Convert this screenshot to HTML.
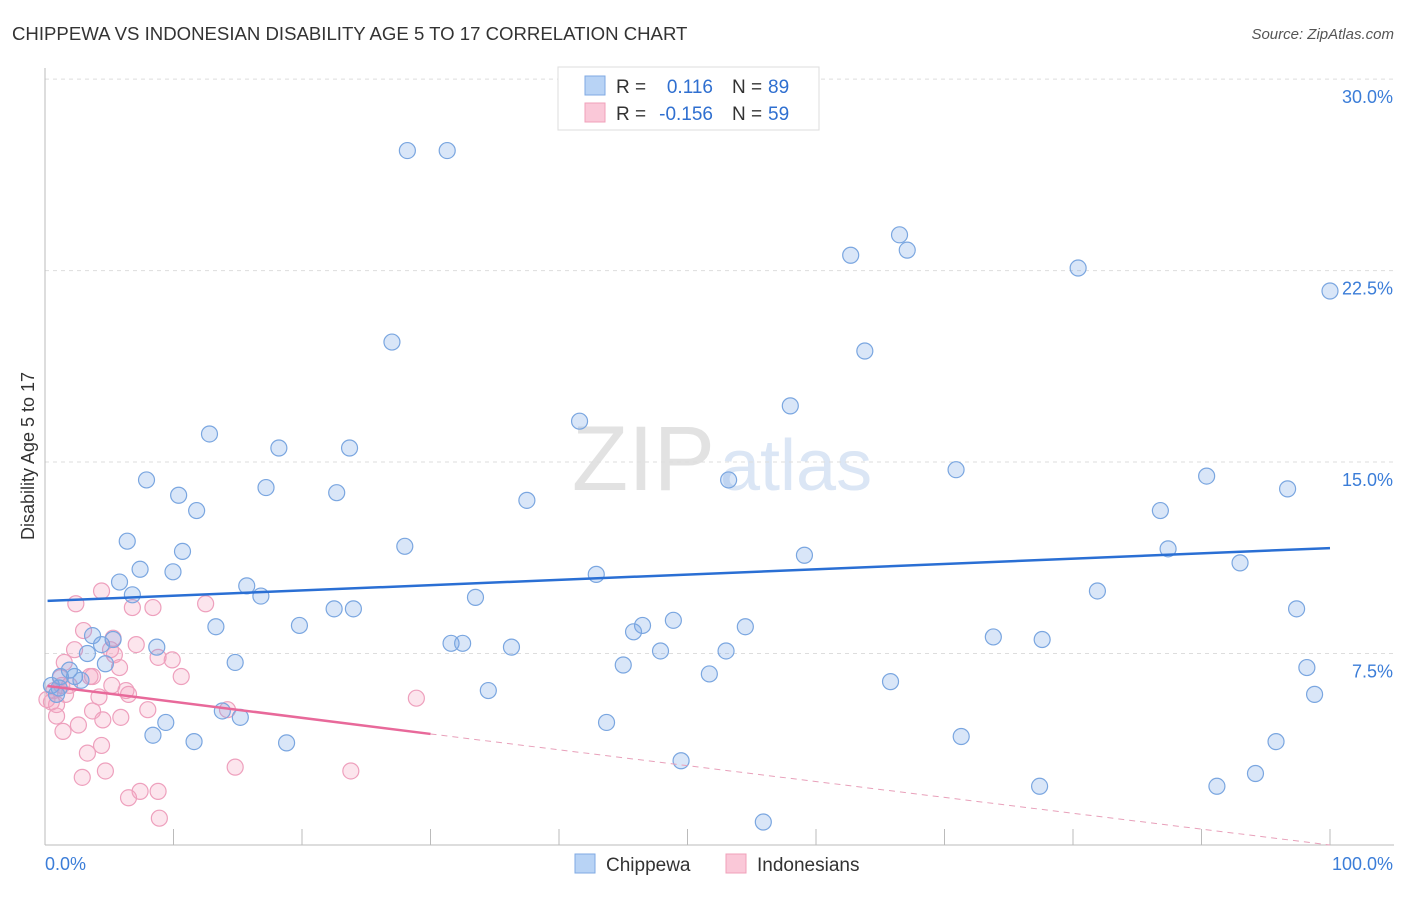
<!DOCTYPE html>
<html><head><meta charset="utf-8"><style>
body{margin:0;background:#fff;font-family:"Liberation Sans",sans-serif;}
svg text{font-family:"Liberation Sans",sans-serif;}
</style></head><body>
<svg id="chart" width="1406" height="892" xmlns="http://www.w3.org/2000/svg">
<text x="12" y="40" font-size="18.6" fill="#333">CHIPPEWA VS INDONESIAN DISABILITY AGE 5 TO 17 CORRELATION CHART</text>
<text x="1394" y="39" font-size="15" fill="#555" font-style="italic" text-anchor="end">Source: ZipAtlas.com</text>
<text x="715" y="490" font-size="92" fill="#e2e2e2" text-anchor="end" font-family="Liberation Serif">ZIP</text>
<text x="720" y="490" font-size="72" fill="#dbe6f5">atlas</text>
<text transform="translate(34,456) rotate(-90)" font-size="18" fill="#333" text-anchor="middle">Disability Age 5 to 17</text>
<g id="grid"></g><g id="axes"></g><g id="pink"></g><g id="blue"></g><g id="lines"></g>
<g>
<rect x="558" y="67" width="261" height="63" fill="#fff" stroke="#ddd"/>
<rect x="585" y="76" width="20" height="19" fill="#b8d3f5" stroke="#7fa9e3"/>
<rect x="585" y="103" width="20" height="19" fill="#fac8d8" stroke="#f0a0ba"/>
<text x="616" y="93" font-size="19" fill="#333">R =</text><text x="713" y="93" font-size="19" fill="#2f6fd0" text-anchor="end">0.116</text>
<text x="732" y="93" font-size="19" fill="#333">N =</text><text x="768" y="93" font-size="19" fill="#2f6fd0">89</text>
<text x="616" y="120" font-size="19" fill="#333">R =</text><text x="713" y="120" font-size="19" fill="#2f6fd0" text-anchor="end">-0.156</text>
<text x="732" y="120" font-size="19" fill="#333">N =</text><text x="768" y="120" font-size="19" fill="#2f6fd0">59</text>
</g>
<g>
<rect x="575" y="854" width="20" height="19" fill="#b8d3f5" stroke="#7fa9e3"/>
<text x="606" y="871" font-size="19" fill="#333">Chippewa</text>
<rect x="726" y="854" width="20" height="19" fill="#fac8d8" stroke="#f0a0ba"/>
<text x="757" y="871" font-size="19" fill="#333">Indonesians</text>
</g>
</svg>
<script>
const yTicks=[7.5,15,22.5,30];
const yTickLabels=["7.5%","15.0%","22.5%","30.0%"];
const blueX=[28.2,31.3,66.5,67.1,62.7,80.4,100,27.0,63.8,58.0,41.6,12.8,18.2,23.7,70.9,90.4,53.2,7.9,17.2,96.7,22.7,10.4,37.5,11.8,86.8,6.4,28.0,10.7,87.4,59.1,93.0,7.4,9.96,42.9,5.8,15.7,6.8,16.8,81.9,33.5,22.5,24.0,97.4,48.9,46.5,19.8,13.3,54.5,45.8,3.7,5.3,73.8,77.6,31.6,32.5,4.4,8.7,36.3,3.3,47.9,53.0,14.8,4.7,45.0,98.2,1.9,1.2,2.3,51.7,2.8,65.8,0.5,1.1,34.5,98.8,0.9,13.8,15.2,43.7,9.4,8.4,71.3,11.6,18.8,95.8,49.5,94.2,77.4,91.2,55.9];
const blueY=[27.2,27.2,23.9,23.3,23.1,22.6,21.7,19.7,19.35,17.2,16.6,16.1,15.55,15.55,14.7,14.45,14.3,14.3,14.0,13.95,13.8,13.7,13.5,13.1,13.1,11.9,11.7,11.5,11.6,11.35,11.05,10.8,10.7,10.6,10.3,10.15,9.8,9.75,9.95,9.7,9.25,9.25,9.25,8.8,8.6,8.6,8.55,8.55,8.35,8.2,8.05,8.15,8.05,7.9,7.9,7.85,7.75,7.75,7.5,7.6,7.6,7.15,7.1,7.05,6.95,6.85,6.6,6.6,6.7,6.45,6.4,6.25,6.15,6.05,5.9,5.9,5.25,5.0,4.8,4.8,4.3,4.25,4.05,4.0,4.05,3.3,2.8,2.3,2.3,0.9];
const pinkX=[4.4,2.4,6.8,8.4,12.5,3.0,5.3,7.1,2.3,5.4,8.8,9.9,1.5,5.8,10.6,3.7,3.5,1.2,1.9,5.2,6.3,0.7,4.2,6.5,1.6,0.5,28.9,8.0,3.7,14.2,0.9,5.9,4.5,2.6,1.4,4.4,3.3,14.8,4.7,23.8,2.9,7.4,8.8,6.5,8.9,0.9,0.15,5.1,1.3];
const pinkY=[9.95,9.45,9.3,9.3,9.45,8.4,8.1,7.85,7.65,7.45,7.35,7.25,7.15,6.95,6.6,6.6,6.6,6.55,6.25,6.25,6.05,6.05,5.8,5.9,5.9,5.6,5.75,5.3,5.25,5.3,5.05,5.0,4.9,4.7,4.45,3.9,3.6,3.05,2.9,2.9,2.65,2.1,2.1,1.85,1.05,5.5,5.7,7.65,6.25];
const blueTrend=[9.56,11.63];
const pinkTrend=[6.23,4.35,0.0];
const X=v=>45+v*12.85, Y=v=>845-v*25.53;
const NS="http://www.w3.org/2000/svg";
function mk(tag,attrs,parent){const e=document.createElementNS(NS,tag);for(const k in attrs)e.setAttribute(k,attrs[k]);document.getElementById(parent).appendChild(e);return e;}
yTicks.forEach((t,i)=>{
 const g=mk('line',{x1:45,x2:1394,y1:Y(t),y2:Y(t),stroke:'#ddd','stroke-dasharray':'4,4'},'grid');
 
 
 const l=mk('text',{x:1393,y:Y(t)+24,'font-size':18,fill:'#3b7dd8','text-anchor':'end'},'grid');
 l.textContent=yTickLabels[i];
 
 
});
const ax=mk('line',{x1:45,x2:45,y1:68,y2:845,stroke:'#bbb'},'axes');


const bx=mk('line',{x1:45,x2:1394,y1:845,y2:845,stroke:'#bbb'},'axes');


for(let i=0;i<=10;i++){const t=mk('line',{x1:X(i*10),x2:X(i*10),y1:829,y2:845,stroke:'#bbb'},'axes');
 
 }
const x0=mk('text',{x:45,y:870,'font-size':18,fill:'#3b7dd8'},'axes');x0.textContent='0.0%';


const x1=mk('text',{x:1393,y:870,'font-size':18,fill:'#3b7dd8','text-anchor':'end'},'axes');x1.textContent='100.0%';


pinkX.forEach((v,i)=>{const c=mk('circle',{cx:X(v),cy:Y(pinkY[i]),r:8,fill:'rgba(244,160,190,0.28)',stroke:'#eea0bd','stroke-width':1.2},'pink');
 
 });
blueX.forEach((v,i)=>{const c=mk('circle',{cx:X(v),cy:Y(blueY[i]),r:8,fill:'rgba(120,165,230,0.28)',stroke:'#7aa6e0','stroke-width':1.2},'blue');
 
 });
const bl=mk('line',{x1:X(0.2),y1:Y(blueTrend[0]),x2:X(100),y2:Y(blueTrend[1]),stroke:'#2a6fd4','stroke-width':2.5},'lines');


const pl=mk('line',{x1:X(0.2),y1:Y(pinkTrend[0]),x2:X(30),y2:Y(pinkTrend[1]),stroke:'#e8699a','stroke-width':2.5},'lines');


const pd=mk('line',{x1:X(30),y1:Y(pinkTrend[1]),x2:X(100),y2:Y(pinkTrend[2]),stroke:'#e8a0ba','stroke-width':1,'stroke-dasharray':'6,5'},'lines');


</script>
</body></html>
